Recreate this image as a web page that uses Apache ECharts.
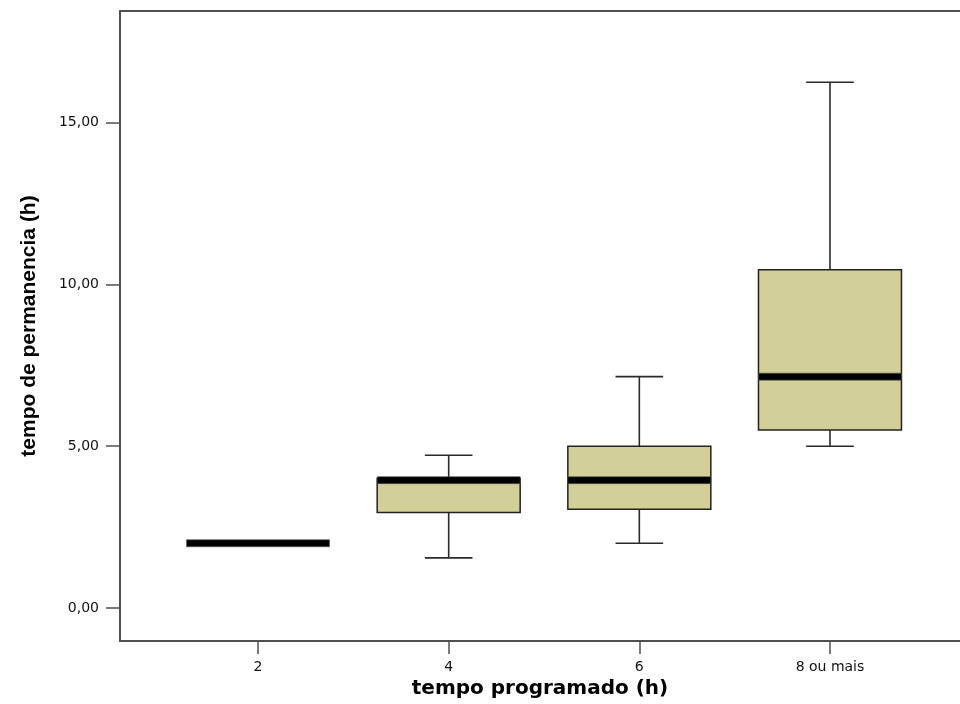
<!DOCTYPE html>
<html>
<head>
<meta charset="utf-8">
<script src="https://cdn.jsdelivr.net/npm/echarts@6/dist/echarts.min.js"></script>
<style>html,body{margin:0;padding:0;background:#fff}#c{width:960px;height:704px}</style>
</head>
<body>
<div id="c"></div>
<script>
// Data
const categories = ['2', '4', '6', '8 ou mais'];
const whiskerLow  = [2.00, 1.55, 2.00, 5.00];
const q1          = [2.00, 2.95, 3.05, 5.50];
const median      = [2.00, 3.95, 3.95, 7.15];
const q3          = [2.00, 4.00, 5.00, 10.45];
const whiskerHigh = [2.00, 4.72, 7.15, 16.25];
const yTicks = [0, 5, 10, 15];
const xTicks = [0, 1, 2, 3];

const boxData = categories.map((c, i) => [i, whiskerLow[i], q1[i], median[i], q3[i], whiskerHigh[i]]);

const BOX_W = 0.75, CAP_W = 0.25;
const lineStyle = { stroke: '#2a2a2a', lineWidth: 1.6 };

function renderItem(params, api) {
  const x = api.value(0);
  const lo = api.value(1), a = api.value(2), m = api.value(3), b = api.value(4), hi = api.value(5);
  const pL = api.coord([x - BOX_W / 2, 0])[0];
  const pR = api.coord([x + BOX_W / 2, 0])[0];
  const cL = api.coord([x - CAP_W / 2, 0])[0];
  const cR = api.coord([x + CAP_W / 2, 0])[0];
  const cx = api.coord([x, 0])[0];
  const yLo = api.coord([x, lo])[1], yA = api.coord([x, a])[1], yM = api.coord([x, m])[1];
  const yB = api.coord([x, b])[1], yHi = api.coord([x, hi])[1];
  const children = [];
  if (yLo - yA > 0.5) {
    children.push({ type: 'line', shape: { x1: cx, y1: yA, x2: cx, y2: yLo }, style: lineStyle });
    children.push({ type: 'line', shape: { x1: cL, y1: yLo, x2: cR, y2: yLo }, style: lineStyle });
  }
  if (yB - yHi > 0.5) {
    children.push({ type: 'line', shape: { x1: cx, y1: yHi, x2: cx, y2: yB }, style: lineStyle });
    children.push({ type: 'line', shape: { x1: cL, y1: yHi, x2: cR, y2: yHi }, style: lineStyle });
  }
  if (yA - yB > 0.5) {
    children.push({ type: 'rect', shape: { x: pL, y: yB, width: pR - pL, height: yA - yB },
      style: { fill: '#d3cf98', stroke: '#222', lineWidth: 1.5 } });
  }
  children.push({ type: 'rect', shape: { x: pL, y: yM - 3.5, width: pR - pL, height: 7 },
    style: { fill: '#000', stroke: '#555', lineWidth: 0.6 } });
  return { type: 'group', children };
}

const X_MIN = -0.724, X_MAX = 3.682;
const axisLineStyle = { color: '#505050', width: 2 };

const chart = echarts.init(document.getElementById('c'), null, { renderer: 'canvas' });
chart.setOption({
  animation: false,
  backgroundColor: '#fff',
  grid: { left: 120, right: 0, top: 11, bottom: 63, show: false, containLabel: false },
  xAxis: [{
    type: 'value', min: X_MIN, max: X_MAX, position: 'bottom',
    splitLine: { show: false },
    axisLine: { show: true, onZero: false, lineStyle: axisLineStyle },
    axisTick: { show: true, customValues: xTicks, length: 13, lineStyle: { color: '#505050', width: 1.5 } },
    axisLabel: { show: true, customValues: xTicks, margin: 19, color: '#111', fontFamily: 'DejaVu Sans', fontSize: 14,
      formatter: v => categories[Math.round(v)] },
    name: 'tempo programado (h)', nameLocation: 'middle', nameGap: 36,
    nameTextStyle: { fontFamily: 'DejaVu Sans', fontWeight: 'bold', fontSize: 20, color: '#000', verticalAlign: 'top' }
  }, {
    type: 'value', min: X_MIN, max: X_MAX, position: 'top',
    splitLine: { show: false },
    axisLine: { show: true, onZero: false, lineStyle: axisLineStyle },
    axisTick: { show: false }, axisLabel: { show: false }
  }],
  yAxis: {
    type: 'value', min: -1.02, max: 18.45,
    splitLine: { show: false },
    axisLine: { show: true, onZero: false, lineStyle: axisLineStyle },
    axisTick: { show: true, customValues: yTicks, length: 14, lineStyle: { color: '#505050', width: 1.5 } },
    axisLabel: { show: true, customValues: yTicks, margin: 21, color: '#111', fontFamily: 'DejaVu Sans', fontSize: 14,
      formatter: v => v.toFixed(2).replace('.', ',') },
    name: 'tempo de permanencia (h)', nameLocation: 'middle', nameGap: 80, nameRotate: 90,
    nameTextStyle: { fontFamily: 'Liberation Sans', fontWeight: 'bold', fontSize: 21, color: '#000' }
  },
  series: [{
    type: 'custom',
    renderItem: renderItem,
    xAxisIndex: 0,
    encode: { x: 0, y: [1, 2, 3, 4, 5] },
    data: boxData,
    clip: true
  }]
});
</script>
</body>
</html>
